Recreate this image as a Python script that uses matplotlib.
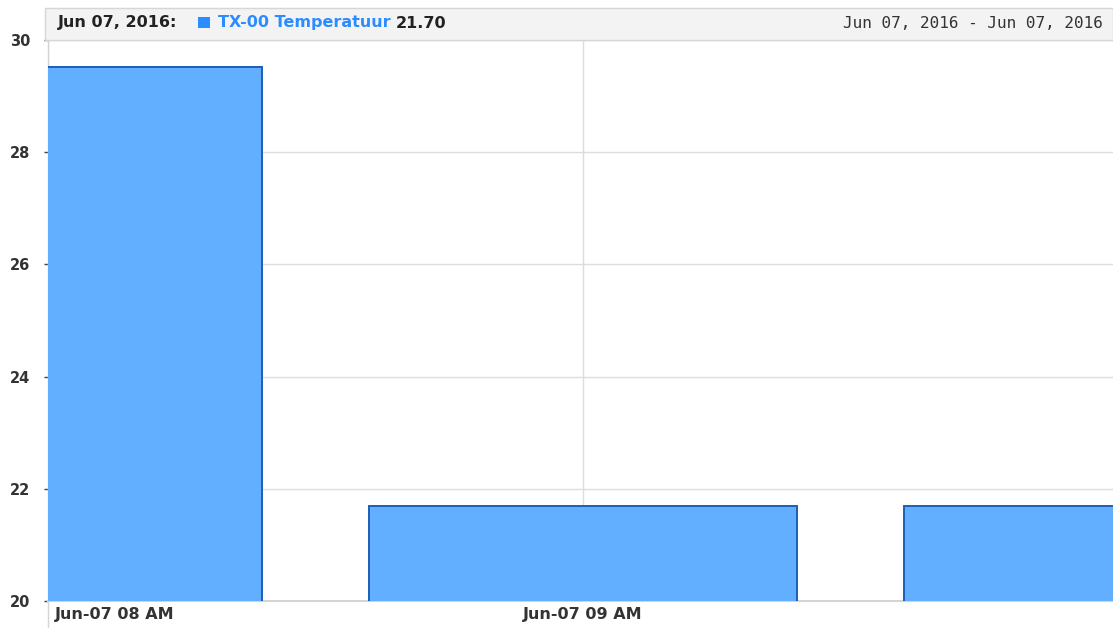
import matplotlib
matplotlib.use("Agg")
import matplotlib.pyplot as plt
import matplotlib.dates as mdates
import matplotlib.transforms as mtrans
from matplotlib.patches import Rectangle
from matplotlib.lines import Line2D
import pandas as pd

# ---- data ----
times = pd.to_datetime(["2016-06-07 08:00", "2016-06-07 09:00", "2016-06-07 10:00"])
values = [29.52, 21.70, 21.70]
bar_minutes = 48
x_start = pd.Timestamp("2016-06-07 08:00")
x_end = pd.Timestamp("2016-06-07 09:59:25")
y_ticks = [20, 22, 24, 26, 28, 30]
x_ticks = pd.to_datetime(["2016-06-07 08:00", "2016-06-07 09:00"])
x_labels = ["Jun-07 08 AM", "Jun-07 09 AM"]
header_date = "Jun 07, 2016:"
series_name = "TX-00 Temperatuur"
header_value = "21.70"
range_text = "Jun 07, 2016 - Jun 07, 2016"

W, H = 1113, 628
fig = plt.figure(figsize=(W / 100, H / 100), dpi=100)
fig.patch.set_facecolor("white")

left, right, top, bottom = 48, 1113, 40, 601
ax = fig.add_axes([left / W, 1 - bottom / H, (right - left) / W, (bottom - top) / H])

xd = mdates.date2num(times)
width = bar_minutes / 1440.0
ax.bar(xd, values, width=width, bottom=0, color="#62aeff", edgecolor="#1a5fb8",
       linewidth=1.4, zorder=3)

ax.set_xlim(mdates.date2num(x_start), mdates.date2num(x_end))
ax.set_ylim(20, 30)
ax.set_yticks(y_ticks)
ax.set_yticklabels([str(v) for v in y_ticks])
ax.set_xticks(mdates.date2num(x_ticks))
ax.set_xticklabels(x_labels)

ax.grid(True, color="#dcdcdc", linewidth=1.0, zorder=0)
ax.set_axisbelow(True)

for s in ["top", "right"]:
    ax.spines[s].set_visible(False)
ax.spines["left"].set_color("#d4d4d4")
ax.spines["bottom"].set_color("#d4d4d4")
ax.spines["left"].set_linewidth(1.0)
ax.spines["bottom"].set_linewidth(1.5)

ax.tick_params(axis="y", direction="out", length=3, width=1, color="#444444",
               pad=10, labelsize=10.5, labelcolor="#333333")
ax.tick_params(axis="x", length=0, pad=4, labelsize=11.5, labelcolor="#333333")
for lab in ax.get_yticklabels():
    lab.set_fontweight("bold")
xl = ax.get_xticklabels()
for lab in xl:
    lab.set_fontweight("bold")
xl[0].set_horizontalalignment("left")
xl[0].set_transform(xl[0].get_transform() + mtrans.Affine2D().translate(7, 0))

# left border extension below axis
fig.add_artist(Line2D([left / W, left / W], [0, 1 - bottom / H], color="#d4d4d4",
                      linewidth=1.0, transform=fig.transFigure))

# header band
hx0, hy0, hy1 = 45, 8, 40
fig.add_artist(Rectangle((hx0 / W, 1 - hy1 / H), (W - hx0) / W, (hy1 - hy0) / H,
                         transform=fig.transFigure, facecolor="#f3f3f3",
                         edgecolor="#d6d6d6", linewidth=1.0, zorder=5))
ty = 1 - 23 / H
fig.text(58 / W, ty, header_date, fontsize=11.5, fontweight="bold", color="#222222",
         va="center", ha="left", zorder=6)
fig.add_artist(Rectangle((198 / W, 1 - 28 / H), 12 / W, 11 / H, transform=fig.transFigure,
                         facecolor="#2a8cff", edgecolor="none", zorder=6))
t1 = fig.text(218 / W, ty, series_name, fontsize=11.5, fontweight="bold", color="#2a8cff",
              va="center", ha="left", zorder=6)
fig.canvas.draw()
bb = t1.get_window_extent(renderer=fig.canvas.get_renderer())
fig.text((bb.x1 + 5) / W, ty, header_value, fontsize=11.5, fontweight="bold", color="#222222",
         va="center", ha="left", zorder=6)
fig.text(1103 / W, ty, range_text, fontsize=11.5, family="DejaVu Sans Mono", color="#333333",
         va="center", ha="right", zorder=6)

fig.savefig("out.png", dpi=100)
